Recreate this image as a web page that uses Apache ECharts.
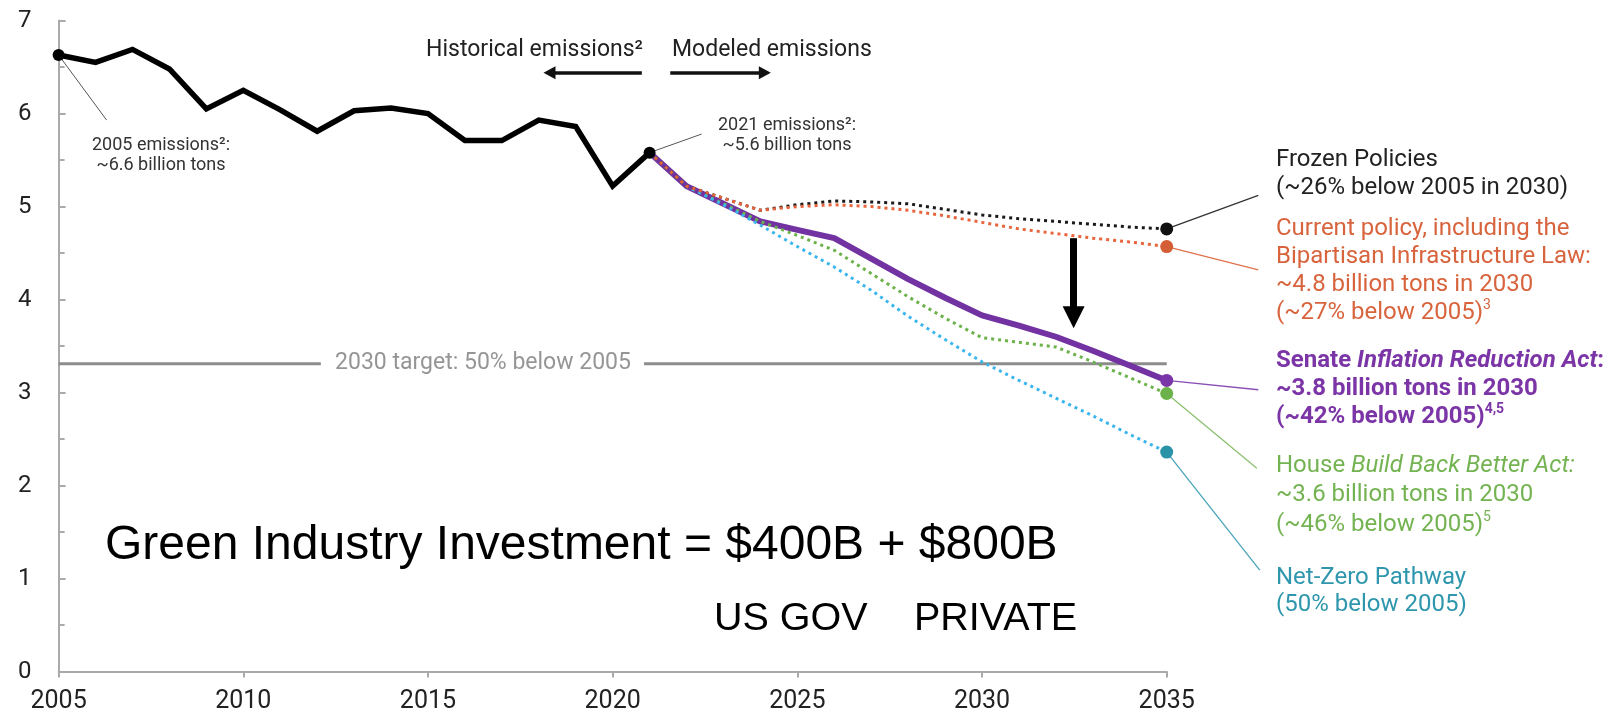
<!DOCTYPE html>
<html>
<head>
<meta charset="utf-8">
<script src="https://cdn.jsdelivr.net/npm/echarts@6/dist/echarts.min.js"></script>
<style>html,body{margin:0;padding:0;background:#fff}#c{width:1612px;height:722px}</style>
</head>
<body>
<div id="c"></div>
<script>
// ---------- data ----------
const histYears = [2005,2006,2007,2008,2009,2010,2011,2012,2013,2014,2015,2016,2017,2018,2019,2020,2021];
const histValues = [6.63,6.55,6.69,6.48,6.05,6.25,6.04,5.81,6.03,6.06,6.00,5.71,5.71,5.93,5.86,5.22,5.58];

const modelYears = [2021,2022,2023,2024,2025,2026,2027,2028,2029,2030,2031,2032,2033,2034,2035];
const frozenValues  = [5.58,5.22,5.09,4.96,5.02,5.06,5.05,5.03,4.97,4.91,4.87,4.84,4.81,4.78,4.76];
const currentValues = [5.58,5.22,5.09,4.96,5.00,5.02,5.00,4.96,4.90,4.83,4.76,4.71,4.66,4.62,4.57];
const senateValues  = [5.58,5.22,5.03,4.84,4.75,4.66,4.44,4.22,4.02,3.83,3.72,3.60,3.45,3.29,3.13];
const houseValues   = [5.58,5.22,5.03,4.84,4.69,4.53,4.28,4.03,3.80,3.59,3.54,3.49,3.33,3.16,2.99];
const netZeroValues = [5.58,5.22,5.02,4.80,4.57,4.35,4.10,3.82,3.57,3.33,3.13,2.94,2.75,2.55,2.36];

const targetValue = 3.31;
const targetGapYears = [2012.1, 2020.85];
const targetLabelYear = 2016.49;
const targetLabel = '2030 target: 50% below 2005';

const xTickMin = 2005, xTickMax = 2035, xTickStep = 5;
const yTickMin = 0, yTickMax = 7, yTickStep = 1;

// annotation anchors (data coordinates)
const bigArrowYear = 2032.48, bigArrowTop = 4.66, bigArrowHeadCenter = 3.81;
const dirArrowLevel = 6.44;
const histArrowYears = [2020.79, 2018.29];
const modelArrowYears = [2021.56, 2024.12];
const leaderEndYear = 2037.48;
const leaderEndValues = {frozen: 5.12, current: 4.32, senate: 3.03, house: 2.185, netZero: 1.09};
const note2005End = [2006.3, 5.93];
const note2021End = [2022.41, 5.78];

// ---------- chart ----------
const FONT = 'Roboto, "Noto Sans", sans-serif';
const ARIAL = '"Liberation Sans", Arial, sans-serif';
const chart = echarts.init(document.getElementById('c'), null, {renderer: 'canvas'});
const pairs = (xs, ys) => xs.map((x, i) => [x, ys[i]]);
const lastOf = a => a[a.length - 1];

function modeled(values, lineColor, pointColor, width, dash, z) {
  const last = values.length - 1;
  return {
    type: 'line', data: pairs(modelYears, values),
    symbol: 'circle', symbolSize: (v, p) => p.dataIndex === last ? 13 : 0,
    showAllSymbol: true,
    lineStyle: {color: lineColor, width: width, type: dash, cap: 'butt'},
    itemStyle: {color: pointColor},
    z: z, silent: true, animation: false
  };
}
function leader(from, to, color, width) {
  return {
    type: 'line', data: [from, to], symbol: 'none', clip: false,
    lineStyle: {color: color, width: width || 1.2}, z: 1, silent: true, animation: false
  };
}

const histLast = histValues.length - 1;
const series = [
  {type: 'line', data: [[xTickMin, targetValue], [targetGapYears[0], targetValue]], symbol: 'none',
   lineStyle: {color: '#8c8c8c', width: 3}, z: 1, silent: true},
  {type: 'line', data: [[targetGapYears[1], targetValue], [xTickMax, targetValue]], symbol: 'none',
   lineStyle: {color: '#8c8c8c', width: 3}, z: 1, silent: true},
  {type: 'scatter', data: [[targetLabelYear, targetValue]], symbolSize: 0, silent: true,
   label: {show: true, position: 'inside', formatter: targetLabel, fontSize: 23, color: '#7a7a7a', fontFamily: FONT}},
  leader([histYears[0], histValues[0]], note2005End, '#555', 1),
  leader([lastOf(histYears), lastOf(histValues)], note2021End, '#555', 1),
  modeled(senateValues, '#7232a2', '#7a36a8', 6, 'solid', 3),
  modeled(houseValues, '#6cb24a', '#6cb24a', 3, [3, 4], 4),
  modeled(netZeroValues, '#3ab6ee', '#2a93a8', 3, [3, 4], 5),
  modeled(frozenValues, '#1a1a1a', '#111', 3, [3, 4], 6),
  modeled(currentValues, '#e8643c', '#d45e36', 3, [3, 4], 7),
  {
    type: 'line', data: pairs(histYears, histValues), z: 8, silent: true,
    symbol: 'circle', symbolSize: (v, p) => (p.dataIndex === 0 || p.dataIndex === histLast) ? 12 : 0,
    showAllSymbol: true,
    lineStyle: {color: '#000', width: 5.5, join: 'miter'}, itemStyle: {color: '#000'},
    markLine: {
      silent: true, animation: false, label: {show: false},
      symbol: ['none', 'triangle'],
      data: [
        [{coord: [histArrowYears[0], dirArrowLevel], lineStyle: {color: '#111', width: 3.5, type: 'solid'}},
         {coord: [histArrowYears[1], dirArrowLevel], symbolSize: [13, 12]}],
        [{coord: [modelArrowYears[0], dirArrowLevel], lineStyle: {color: '#111', width: 3.5, type: 'solid'}},
         {coord: [modelArrowYears[1], dirArrowLevel], symbolSize: [13, 12]}],
        [{coord: [bigArrowYear, bigArrowTop], lineStyle: {color: '#000', width: 7, type: 'solid'}},
         {coord: [bigArrowYear, bigArrowHeadCenter], symbolSize: [22, 22]}]
      ]
    }
  }
];

function labelBlock(text, left, top, color, weight, lh) {
  const base = {fontSize: 24, fontFamily: FONT, color: color, fontWeight: weight || 'normal', lineHeight: lh || 28};
  return {
    text: text, left: left, top: top, padding: 0,
    textStyle: Object.assign({}, base, {
      rich: {
        i: Object.assign({}, base, {fontStyle: 'italic'}),
        s: Object.assign({}, base, {fontSize: 14, lineHeight: 14, verticalAlign: 'top'})
      }
    })
  };
}

function gtext(text, x, y, size, color, align, family, lh) {
  return {
    type: 'text', x: x, y: y, silent: true,
    style: {
      text: text, fontSize: size, fontFamily: family || FONT, font: size + 'px ' + (family || FONT),
      fill: color, textAlign: align, align: align,
      textVerticalAlign: 'middle', verticalAlign: 'middle', lineHeight: lh || size * 1.15
    }
  };
}

const textGraphics = [
  gtext('Historical emissions²', 643, 50, 23, '#222', 'right'),
  gtext('Modeled emissions', 672, 50, 23, '#222', 'left'),
  gtext('2005 emissions²:\n~6.6 billion tons', 161, 155, 18, '#333', 'center', FONT, 20),
  gtext('2021 emissions²:\n~5.6 billion tons', 787, 135, 18, '#333', 'center', FONT, 20),
  gtext('Green Industry Investment = $400B + $800B', 105, 546, 48, '#000', 'left', ARIAL),
  gtext('US GOV', 714, 619, 39.5, '#000', 'left', ARIAL),
  gtext('PRIVATE', 914, 619, 39.5, '#000', 'left', ARIAL)
];

chart.setOption({
  animation: false,
  grid: {left: 58.6, right: 445.3, top: 20.6, bottom: 50.5, containLabel: false},
  xAxis: {
    type: 'value', min: xTickMin, max: xTickMax, interval: xTickStep,
    axisLine: {show: true, lineStyle: {color: '#aaa', width: 2}},
    axisTick: {show: true, length: 6, lineStyle: {color: '#aaa', width: 2}},
    axisLabel: {formatter: v => String(v), fontSize: 25, color: '#222', fontFamily: FONT, margin: 18},
    splitLine: {show: false}
  },
  yAxis: {
    type: 'value', min: yTickMin, max: yTickMax, interval: yTickStep,
    axisLine: {show: true, lineStyle: {color: '#aaa', width: 2}},
    axisTick: {show: true, inside: true, length: 7, lineStyle: {color: '#aaa', width: 2}},
    minorTick: {show: true, splitNumber: 2, length: 6, lineStyle: {color: '#aaa', width: 2}},
    axisLabel: {fontSize: 24, color: '#222', fontFamily: FONT, margin: 27},
    splitLine: {show: false}
  },
  title: [
    labelBlock('Frozen Policies\n(~26% below 2005 in 2030)', 1276, 146, '#222'),
    labelBlock('Current policy, including the\nBipartisan Infrastructure Law:\n~4.8 billion tons in 2030\n(~27% below 2005){s|3}', 1276, 214.5, '#d8643d'),
    labelBlock('Senate {i|Inflation Reduction Act}:\n~3.8 billion tons in 2030\n(~42% below 2005){s|4,5}', 1276, 346.5, '#7b35a6', 'bold'),
    labelBlock('House {i|Build Back Better Act:}\n~3.6 billion tons in 2030\n(~46% below 2005){s|5}', 1276, 451.5, '#74b352', 'normal', 29.3),
    labelBlock('Net-Zero Pathway\n(50% below 2005)', 1276, 564.5, '#2f97ad', 'normal', 27)
  ],
  graphic: textGraphics,
  series: series
});

// leader lines from the 2035 end points to the right-hand labels
const leaderSpecs = [
  {from: [2035, lastOf(frozenValues)],  to: [leaderEndYear, leaderEndValues.frozen],  color: '#333'},
  {from: [2035, lastOf(currentValues)], to: [leaderEndYear, leaderEndValues.current], color: '#e0714b'},
  {from: [2035, lastOf(senateValues)],  to: [leaderEndYear, leaderEndValues.senate],  color: '#8a4fb5'},
  {from: [2035, lastOf(houseValues)],   to: [leaderEndYear - 0.04, leaderEndValues.house], color: '#8cc070'},
  {from: [2035, lastOf(netZeroValues)], to: [leaderEndYear + 0.04, leaderEndValues.netZero], color: '#4aa5b8'}
];
const leaderGraphics = leaderSpecs.map(s => {
  const a = chart.convertToPixel({gridIndex: 0}, s.from);
  const b = chart.convertToPixel({gridIndex: 0}, s.to);
  return {type: 'line', z: 1, silent: true,
          shape: {x1: a[0], y1: a[1], x2: b[0], y2: b[1]},
          style: {stroke: s.color, lineWidth: 1.3}};
});
chart.setOption({graphic: textGraphics.concat(leaderGraphics)});
</script>
</body>
</html>
